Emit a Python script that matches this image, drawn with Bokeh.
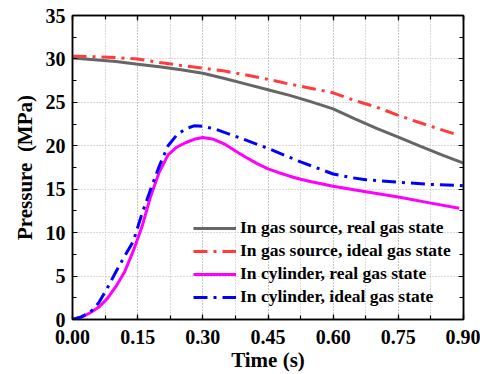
from bokeh.plotting import figure
from bokeh.models import (Range1d, LinearAxis, SingleIntervalTicker, Legend, LegendItem,
                          NumeralTickFormatter)
from bokeh.embed import file_html
from bokeh.resources import INLINE

# ---- data ----
t_src_real = [0.0, 0.05, 0.10, 0.15, 0.20, 0.25, 0.30, 0.35, 0.40, 0.45, 0.50, 0.55,
              0.60, 0.65, 0.70, 0.75, 0.80, 0.85, 0.90]
p_src_real = [30.1, 29.9, 29.7, 29.4, 29.1, 28.75, 28.35, 27.75, 27.1, 26.45, 25.8, 25.05,
              24.25, 23.1, 22.0, 21.0, 19.95, 18.95, 18.0]

t_src_ideal = [0.0, 0.05, 0.10, 0.15, 0.20, 0.25, 0.30, 0.35, 0.40, 0.45, 0.50, 0.55,
               0.60, 0.65, 0.70, 0.75, 0.80, 0.88]
p_src_ideal = [30.3, 30.25, 30.15, 30.0, 29.6, 29.25, 28.95, 28.6, 28.15, 27.65, 27.1, 26.6,
               26.1, 25.2, 24.45, 23.5, 22.65, 21.35]

t_cyl_real = [0.0, 0.02, 0.04, 0.06, 0.08, 0.10, 0.12, 0.14, 0.16, 0.18, 0.20, 0.22,
              0.24, 0.26, 0.28, 0.30, 0.325, 0.35, 0.375, 0.40, 0.425, 0.45, 0.475,
              0.50, 0.525, 0.55, 0.60, 0.675, 0.75, 0.825, 0.89]
p_cyl_real = [0.0, 0.25, 0.75, 1.4, 2.4, 3.8, 5.5, 7.9, 10.7, 14.2, 17.0, 18.95,
              19.85, 20.35, 20.75, 20.95, 20.75, 20.2, 19.4, 18.65, 17.95, 17.35, 16.9,
              16.5, 16.15, 15.85, 15.35, 14.7, 14.1, 13.4, 12.8]

t_cyl_ideal = [0.0, 0.02, 0.04, 0.06, 0.08, 0.10, 0.12, 0.14, 0.16, 0.18, 0.20, 0.22,
               0.24, 0.26, 0.28, 0.30, 0.33, 0.375, 0.45, 0.525, 0.60, 0.64, 0.675,
               0.75, 0.825, 0.90]
p_cyl_ideal = [0.0, 0.3, 0.8, 1.9, 3.6, 5.5, 7.3, 9.0, 12.2, 15.0, 17.7, 20.0,
               21.25, 21.95, 22.3, 22.25, 21.9, 21.1, 19.7, 18.15, 16.75, 16.35, 16.1,
               15.8, 15.55, 15.4]

labels = ["In gas source, real gas state", "In gas source, ideal gas state",
          "In cylinder, real gas state", "In cylinder, ideal gas state"]

FONT = "'Times New Roman', 'Liberation Serif', serif"

p = figure(width=480, height=374, output_backend="svg", toolbar_location=None,
           x_range=Range1d(0, 0.9), y_range=Range1d(0, 35),
           min_border_left=72, min_border_right=17, min_border_top=15, min_border_bottom=55,
           x_axis_label="Time (s)", y_axis_label="Pressure\u00a0 (MPa)")
p.background_fill_color = "white"
p.border_fill_color = "white"
p.outline_line_color = "black"
p.outline_line_width = 1.5

xt = SingleIntervalTicker(interval=0.15, num_minor_ticks=2)
yt = SingleIntervalTicker(interval=5, num_minor_ticks=2)

for ax in (p.xaxis[0], p.yaxis[0]):
    ax.major_label_text_font = FONT
    ax.major_label_text_font_style = "bold"
    ax.major_label_text_font_size = "20px"
    ax.major_label_text_color = "black"
    ax.axis_label_text_font = FONT
    ax.axis_label_text_font_style = "bold"
    ax.axis_label_text_font_size = "21px"
    ax.axis_label_text_color = "black"
    ax.major_tick_in = 5
    ax.major_tick_out = 0
    ax.minor_tick_in = 4
    ax.minor_tick_out = 0
    ax.axis_line_width = 1.5
    ax.major_tick_line_width = 1.2
    ax.minor_tick_line_width = 1.2
p.xaxis[0].ticker = xt
p.yaxis[0].ticker = yt
p.xaxis[0].formatter = NumeralTickFormatter(format="0.00")
p.xaxis[0].major_label_standoff = 10
p.yaxis[0].major_label_standoff = 7
p.xaxis[0].axis_label_standoff = 1
p.yaxis[0].axis_label_standoff = 6

def mirror_axis(ticker):
    return LinearAxis(ticker=ticker, major_label_text_font_size="1px",
                      major_label_text_color=None, major_label_standoff=0,
                      major_tick_in=5, major_tick_out=0, minor_tick_in=4, minor_tick_out=0,
                      axis_line_width=1.5, major_tick_line_width=1.2,
                      minor_tick_line_width=1.2)

p.add_layout(mirror_axis(xt), "above")
p.add_layout(mirror_axis(yt), "right")

p.xgrid.ticker = xt
p.ygrid.ticker = yt
for g in (p.xgrid[0], p.ygrid[0]):
    g.grid_line_color = "#b4b4b4"
    g.grid_line_dash = "1 2"
    g.grid_line_width = 1
p.xgrid[0].minor_grid_line_color = "#b4b4b4"
p.xgrid[0].minor_grid_line_dash = "1 2"
p.xgrid[0].minor_grid_line_width = 1

r1 = p.line(t_src_real, p_src_real, line_color="#666666", line_width=3)
r2 = p.line(t_src_ideal, p_src_ideal, line_color="#ff3b3b", line_width=3, line_dash="14 6 3 6")
r3 = p.line(t_cyl_real, p_cyl_real, line_color="#ff00ff", line_width=3)
r4 = p.line(t_cyl_ideal, p_cyl_ideal, line_color="#0000ff", line_width=3, line_dash="14 6 3 6")

legend = Legend(items=[LegendItem(label=labels[0], renderers=[r1]),
                       LegendItem(label=labels[1], renderers=[r2]),
                       LegendItem(label=labels[2], renderers=[r3]),
                       LegendItem(label=labels[3], renderers=[r4])],
                location=(121, 12))
legend.label_text_font = FONT
legend.label_text_font_style = "bold"
legend.label_text_font_size = "17.5px"
legend.label_text_color = "black"
legend.glyph_width = 43
legend.glyph_height = 20
legend.label_height = 20
legend.label_standoff = 4
legend.spacing = 2
legend.padding = 0
legend.margin = 0
legend.border_line_alpha = 0
legend.background_fill_alpha = 0
p.add_layout(legend, "center")

open("out.html", "w").write(file_html(p, INLINE))
